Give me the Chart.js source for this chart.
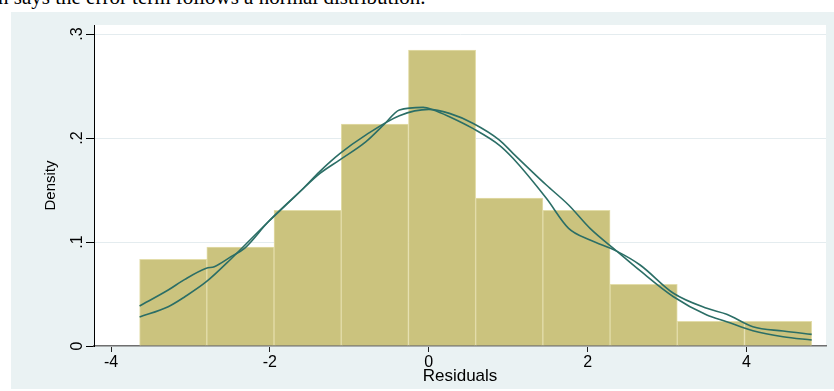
<!DOCTYPE html>
<html>
<head>
<meta charset="utf-8">
<script src="https://cdn.jsdelivr.net/npm/chart.js@4.4.1/dist/chart.umd.min.js"></script>
<style>
  html, body { margin: 0; padding: 0; background: #ffffff; width: 834px; height: 391px; overflow: hidden; }
  #lead { position: absolute; left: -2px; top: -15px; font: 21px "Liberation Serif", "Times New Roman", serif; white-space: nowrap; color: #000; }
  #graph { position: absolute; left: 11px; top: 12px; width: 823px; height: 377px; background: #EAF2F3; }
  canvas { display: block; }
</style>
</head>
<body>
<div id="lead">n says the error term follows a normal distribution.</div>
<div id="graph"><canvas id="c" width="823" height="377"></canvas></div>
<script>
// Histogram of residuals (10 bins), density scale
const binMid = [-3.217, -2.371, -1.525, -0.679, 0.167, 1.013, 1.859, 2.705, 3.551, 4.397];
const binDensity = [0.0834, 0.0952, 0.1305, 0.2135, 0.2846, 0.1423, 0.1305, 0.0593, 0.0237, 0.0237];

// Kernel density estimate of the residuals
const kdeX = [-3.64, -3.28, -3.07, -2.80, -2.70, -2.49, -2.32, -2.02, -1.60, -1.37, -1.12, -0.79, -0.55, -0.37, -0.07, 0.06, 0.26, 0.56, 0.89, 1.06, 1.48, 1.76, 2.03, 2.37, 2.66, 3.08, 3.50, 3.75, 4.08, 4.46, 4.82];
const kdeY = [0.0385, 0.0538, 0.0641, 0.0747, 0.0763, 0.0859, 0.0939, 0.1195, 0.150, 0.166, 0.179, 0.1965, 0.214, 0.227, 0.2295, 0.227, 0.2205, 0.209, 0.193, 0.1805, 0.142, 0.1131, 0.1019, 0.091, 0.0779, 0.0507, 0.0362, 0.0305, 0.0185, 0.0144, 0.0112];

// Normal density overlay
const normX = [-3.64, -3.28, -3.07, -2.80, -2.49, -2.02, -1.60, -1.37, -1.12, -0.79, -0.37, 0.0, 0.26, 0.56, 0.89, 1.06, 1.48, 1.76, 2.03, 2.37, 2.66, 3.08, 3.50, 3.75, 4.08, 4.46, 4.82];
const normY = [0.0279, 0.0378, 0.0474, 0.0618, 0.0837, 0.1195, 0.150, 0.168, 0.185, 0.203, 0.2215, 0.2276, 0.2237, 0.214, 0.198, 0.1853, 0.1548, 0.1356, 0.1131, 0.091, 0.0724, 0.0474, 0.0298, 0.0234, 0.0147, 0.0089, 0.0058];

// Axis ticks
const xTicks = [-4, -2, 0, 2, 4];
const yTicks = [0, 0.1, 0.2, 0.3];
const yTickLabels = ['0', '.1', '.2', '.3'];

const pairs = (xs, ys) => xs.map((x, i) => ({ x: x, y: ys[i] }));

// White plot region inside the tinted graph region
const plotBackground = {
  id: 'plotBackground',
  beforeDraw(chart) {
    const { ctx, chartArea: a } = chart;
    ctx.save();
    ctx.fillStyle = '#ffffff';
    ctx.fillRect(a.left, a.top, a.right - a.left, a.bottom - a.top);
    ctx.restore();
  }
};

const curveColor = '#2B6E66';
const sans = '"Liberation Sans", Arial, sans-serif';

new Chart(document.getElementById('c'), {
  type: 'bar',
  data: {
    datasets: [
      {
        type: 'line',
        data: pairs(kdeX, kdeY),
        borderColor: curveColor,
        borderWidth: 1.6,
        pointRadius: 0,
        cubicInterpolationMode: 'monotone',
        fill: false,
        order: 0
      },
      {
        type: 'line',
        data: pairs(normX, normY),
        borderColor: curveColor,
        borderWidth: 1.6,
        pointRadius: 0,
        cubicInterpolationMode: 'monotone',
        fill: false,
        order: 0
      },
      {
        type: 'bar',
        data: pairs(binMid, binDensity),
        backgroundColor: '#CBC37E',
        borderColor: '#E3DDAA',
        borderWidth: 1,
        barPercentage: 1,
        categoryPercentage: 1,
        order: 2
      }
    ]
  },
  options: {
    responsive: false,
    animation: false,
    devicePixelRatio: 1,
    layout: { padding: { left: 0, right: 8, top: 13, bottom: 0 } },
    plugins: { legend: { display: false }, tooltip: { enabled: false } },
    scales: {
      x: {
        type: 'linear',
        min: -4.214,
        max: 5.0,
        offset: false,
        afterBuildTicks(s) { s.ticks = xTicks.map(v => ({ value: v })); },
        afterFit(s) { s.height = 43; },
        grid: { display: true, drawOnChartArea: false, offset: false, tickLength: 6, tickColor: '#222222', tickWidth: 1 },
        border: { color: '#6f6f6f', width: 1.5 },
        ticks: { color: '#000', font: { family: sans, size: 16 }, padding: 1, maxRotation: 0, autoSkip: false },
        title: { display: true, text: 'Residuals', color: '#000', font: { family: sans, size: 17 }, padding: { top: 0, bottom: 2 } }
      },
      y: {
        min: 0,
        max: 0.3087,
        afterBuildTicks(s) { s.ticks = yTicks.map(v => ({ value: v })); },
        afterFit(s) { s.width = 83; },
        grid: { color: '#E4ECEF', lineWidth: 1, tickColor: '#000000', tickLength: 8, tickWidth: 1 },
        border: { color: '#000000', width: 1 },
        ticks: {
          color: '#000',
          font: { family: sans, size: 16 },
          minRotation: 90,
          maxRotation: 90,
          crossAlign: 'center',
          padding: 2,
          autoSkip: false,
          callback: (v) => yTickLabels[yTicks.indexOf(v)]
        },
        title: { display: true, text: 'Density', color: '#000', font: { family: sans, size: 15 }, padding: { top: 31, bottom: 0 } }
      }
    }
  },
  plugins: [plotBackground]
});
</script>
</body>
</html>
